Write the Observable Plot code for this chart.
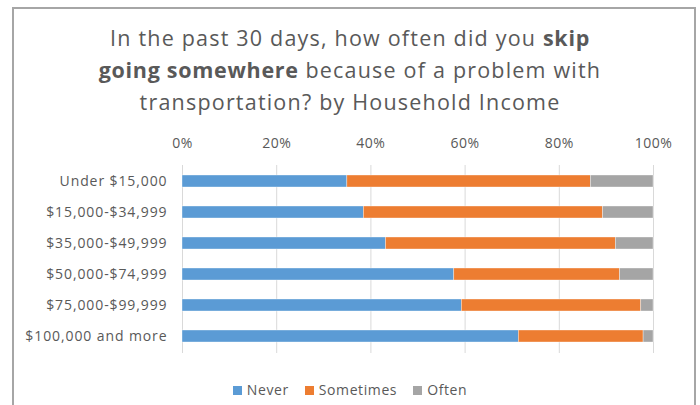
<!DOCTYPE html>
<html>
<head>
<meta charset="utf-8">
<script src="https://cdn.jsdelivr.net/npm/d3@7"></script>
<script src="https://cdn.jsdelivr.net/npm/@observablehq/plot@0.6"></script>
<style>
  html, body { margin: 0; padding: 0; background: #fff; }
  #wrap { position: relative; width: 700px; height: 405px; overflow: hidden; font-family: "Open Sans", sans-serif; }
  #frame { position: absolute; left: 12px; top: 7px; width: 684px; height: 420px; border: 2px solid #A6A6A6; border-bottom: none; box-sizing: border-box; }
  #title { position: absolute; left: 0; top: 22px; width: 700px; text-align: center; font-family: "Open Sans", sans-serif; font-size: 21.5px; letter-spacing: 1.2px; line-height: 32px; color: #595959; }
  #title b { font-weight: 700; letter-spacing: 0.7px; }
  #chart { position: absolute; left: 0; top: 130px; }
  #chart g[aria-label="y-axis tick label"] text { letter-spacing: 0.9px; }
  #legend { position: absolute; left: 0; top: 380px; width: 700px; text-align: center; font-size: 14px; letter-spacing: 0.6px; color: #595959; }
  #legend span.item { display: inline-block; margin: 0 8px; }
  #legend span.sw { display: inline-block; width: 9px; height: 9px; margin-right: 5px; vertical-align: 0px; }
</style>
</head>
<body>
<div id="wrap">
  <div id="frame"></div>
  <div id="title">In the past 30 days, how often did you <b>skip</b><br><b>going somewhere</b> because of a problem with<br>transportation? by Household Income</div>
  <div id="chart"></div>
  <div id="legend"></div>
</div>
<script>
const categories = ["Under $15,000", "$15,000-$34,999", "$35,000-$49,999", "$50,000-$74,999", "$75,000-$99,999", "$100,000 and more"];
const seriesNames = ["Never", "Sometimes", "Often"];
const never = [35.0, 38.5, 43.2, 57.7, 59.3, 71.4];
const sometimes = [51.7, 50.8, 48.8, 35.2, 38.1, 26.5];
const often = [13.3, 10.7, 8.0, 7.1, 2.6, 2.1];
const colors = ["#5B9BD5", "#ED7D31", "#A5A5A5"];
const xTicks = [0, 20, 40, 60, 80, 100];

const seriesValues = [never, sometimes, often];
const rows = [];
categories.forEach((c, i) => {
  seriesNames.forEach((s, j) => rows.push({category: c, response: s, value: seriesValues[j][i]}));
});

const plot = Plot.plot({
  width: 700,
  height: 228,
  marginLeft: 182,
  marginRight: 47,
  marginTop: 35,
  marginBottom: 5,
  style: {fontFamily: "'Open Sans', sans-serif", fontSize: "14px", color: "#595959", background: "transparent", letterSpacing: "0.5px"},
  x: {domain: [0, 100], ticks: xTicks, label: null},
  y: {domain: categories, paddingInner: 0.6, paddingOuter: 0.3, label: null},
  color: {domain: seriesNames, range: colors},
  marks: [
    Plot.ruleX(xTicks, {stroke: "#D9D9D9", strokeWidth: 1}),
    Plot.barX(rows, Plot.stackX({x: "value", y: "category", fill: "response", order: null, inset: 0, stroke: "#ffffff", strokeWidth: 0.6, strokeOpacity: 0.6})),
    Plot.axisX(xTicks, {anchor: "top", label: null, tickSize: 0, tickPadding: 18, tickFormat: d => d + "%", fill: "#595959", fontSize: 14}),
    Plot.axisY({anchor: "left", label: null, tickSize: 0, tickPadding: 15, fill: "#595959", fontSize: 14})
  ]
});
document.getElementById("chart").appendChild(plot);

const legend = document.getElementById("legend");
seriesNames.forEach((s, i) => {
  const item = document.createElement("span");
  item.className = "item";
  const sw = document.createElement("span");
  sw.className = "sw";
  sw.style.background = colors[i];
  item.appendChild(sw);
  item.appendChild(document.createTextNode(s));
  legend.appendChild(item);
});
</script>
</body>
</html>
